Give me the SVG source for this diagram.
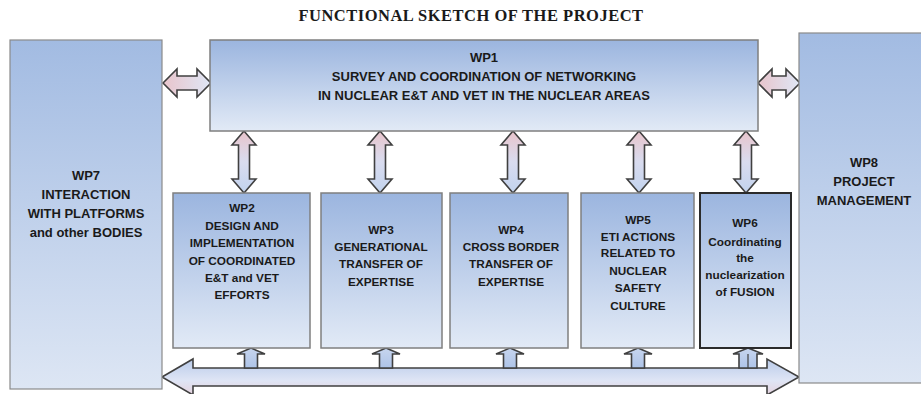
<svg xmlns="http://www.w3.org/2000/svg" width="921" height="394" viewBox="0 0 921 394">
<defs>
<linearGradient id="boxg" x1="0" y1="0" x2="0" y2="1">
<stop offset="0" stop-color="#9bb5df"/>
<stop offset="1" stop-color="#e2eaf6"/>
</linearGradient>
<linearGradient id="sideg" x1="0" y1="0" x2="0" y2="1">
<stop offset="0" stop-color="#a2bbe2"/>
<stop offset="1" stop-color="#dde6f4"/>
</linearGradient>
<linearGradient id="vg" x1="0" y1="0" x2="0" y2="1">
<stop offset="0" stop-color="#e8c4cb"/>
<stop offset="0.5" stop-color="#d9dcef"/>
<stop offset="1" stop-color="#c2d3ee"/>
</linearGradient>
<linearGradient id="hg" x1="0" y1="0" x2="1" y2="0">
<stop offset="0" stop-color="#e8c4cb"/>
<stop offset="1" stop-color="#dfe7f6"/>
</linearGradient>
<linearGradient id="bg" x1="0" y1="0" x2="0" y2="1">
<stop offset="0" stop-color="#b9cbea"/>
<stop offset="0.6" stop-color="#dfe5f5"/>
<stop offset="1" stop-color="#e6d3de"/>
</linearGradient>
<linearGradient id="ug" x1="0" y1="0" x2="0" y2="1">
<stop offset="0" stop-color="#c7d5ee"/>
<stop offset="1" stop-color="#aec4e8"/>
</linearGradient>
</defs>
<style>
.box{fill:url(#boxg);stroke:#7f7f7f;stroke-width:1.5}
.side{fill:url(#sideg);stroke:#8a8a8a;stroke-width:1.2}
.t{font-family:"Liberation Sans",Arial,sans-serif;font-weight:bold;font-size:11.8px;fill:#1a1a1a;text-anchor:middle}
.t1{font-size:13px}
.title{font-family:"Liberation Serif","Times New Roman",serif;font-weight:bold;font-size:16.5px;fill:#1a1a1a;text-anchor:middle;letter-spacing:0.5px}
.va{fill:url(#vg);stroke:#404040;stroke-width:1.6;stroke-linejoin:miter}
.ha{fill:url(#hg);stroke:#404040;stroke-width:1.6}
.ba{fill:url(#bg);stroke:#404040;stroke-width:1.6}
.ua{fill:url(#ug);stroke:#404040;stroke-width:1.6}
</style>
<rect width="921" height="394" fill="#ffffff"/>
<text class="title" x="471" y="21">FUNCTIONAL  SKETCH OF THE PROJECT</text>

<g id="connectors">
<!-- WP7 <-> WP1 -->
<path class="ha" d="M163,83 L177,69 L177,76 L197,76 L197,69 L211,83 L197,97 L197,90 L177,90 L177,97 Z"/>
<!-- WP1 <-> WP8 -->
<path class="ha" d="M758,83 L772,69 L772,76 L786,76 L786,69 L800,83 L786,97 L786,90 L772,90 L772,97 Z"/>
<!-- vertical WP1 <-> WP2..WP6 -->
<g class="va">
<path d="M244,131 L256,145 L249.5,145 L249.5,179 L256,179 L244,193 L232,179 L238.5,179 L238.5,145 L232,145 Z"/>
<path d="M380,131 L392,145 L385.5,145 L385.5,179 L392,179 L380,193 L368,179 L374.5,179 L374.5,145 L368,145 Z"/>
<path d="M513,131 L525,145 L518.5,145 L518.5,179 L525,179 L513,193 L501,179 L507.5,179 L507.5,145 L501,145 Z"/>
<path d="M639,131 L651,145 L644.5,145 L644.5,179 L651,179 L639,193 L627,179 L633.5,179 L633.5,145 L627,145 Z"/>
<path d="M746,131 L758,145 L751.5,145 L751.5,179 L758,179 L746,193 L734,179 L740.5,179 L740.5,145 L734,145 Z"/>
</g>
<!-- bottom bus arrow -->
<path class="ba" d="M162,377 L193,359 L193,368 L767,368 L767,359 L799,377 L767,395 L767,386 L193,386 L193,395 Z"/>
<!-- small up arrows -->
<g class="ua">
<path d="M251,348 L265,354 L257.5,354 L257.5,368 L244.5,368 L244.5,354 L237,354 Z"/>
<path d="M386,348 L400,354 L392.5,354 L392.5,368 L379.5,368 L379.5,354 L372,354 Z"/>
<path d="M510,348 L524,354 L516.5,354 L516.5,368 L503.5,368 L503.5,354 L496,354 Z"/>
<path d="M638,348 L652,354 L644.5,354 L644.5,368 L631.5,368 L631.5,354 L624,354 Z"/>
<path d="M748,348 L763,354 L757,354 L757,368 L739,368 L739,354 L733,354 Z"/>
<line x1="748" y1="354" x2="748" y2="368" stroke="#404040" stroke-width="1.2"/>
</g>
</g>

<g id="wp7">
<rect class="side" x="10" y="40" width="152" height="349"/>
<text class="t t1" x="86" y="180">WP7</text>
<text class="t t1" x="86" y="199">INTERACTION</text>
<text class="t t1" x="86" y="218">WITH PLATFORMS</text>
<text class="t t1" x="86" y="237">and other BODIES</text>
</g>

<g id="wp8">
<rect class="side" x="799" y="33" width="130" height="350"/>
<text class="t t1" x="864" y="167">WP8</text>
<text class="t t1" x="864" y="186">PROJECT</text>
<text class="t t1" x="864" y="205">MANAGEMENT</text>
</g>

<g id="wp1">
<rect class="box" x="210" y="40" width="548" height="91"/>
<text class="t t1" x="484" y="62">WP1</text>
<text class="t t1" x="484" y="81">SURVEY AND COORDINATION OF NETWORKING</text>
<text class="t t1" x="484" y="100">IN NUCLEAR E&amp;T AND VET IN THE NUCLEAR AREAS</text>
</g>

<g id="wp2">
<rect class="box" x="173" y="193" width="137" height="155"/>
<text class="t" x="242" y="212">WP2</text>
<text class="t" x="242" y="230">DESIGN AND</text>
<text class="t" x="242" y="247">IMPLEMENTATION</text>
<text class="t" x="242" y="265">OF COORDINATED</text>
<text class="t" x="242" y="282">E&amp;T and VET</text>
<text class="t" x="242" y="299">EFFORTS</text>
</g>

<g id="wp3">
<rect class="box" x="321" y="193" width="121" height="155"/>
<text class="t" x="381" y="234">WP3</text>
<text class="t" x="381" y="251">GENERATIONAL</text>
<text class="t" x="381" y="268">TRANSFER OF</text>
<text class="t" x="381" y="286">EXPERTISE</text>
</g>

<g id="wp4">
<rect class="box" x="450" y="193" width="118" height="155"/>
<text class="t" x="511" y="234">WP4</text>
<text class="t" x="511" y="251">CROSS BORDER</text>
<text class="t" x="511" y="268">TRANSFER OF</text>
<text class="t" x="511" y="286">EXPERTISE</text>
</g>

<g id="wp5">
<rect class="box" x="581" y="193" width="113" height="155"/>
<text class="t" x="638" y="224">WP5</text>
<text class="t" x="638" y="241">ETI ACTIONS</text>
<text class="t" x="638" y="257">RELATED TO</text>
<text class="t" x="638" y="275">NUCLEAR</text>
<text class="t" x="638" y="292">SAFETY</text>
<text class="t" x="638" y="310">CULTURE</text>
</g>

<g id="wp6">
<rect class="box" x="700" y="193" width="91" height="155" style="stroke:#2b2b2b;stroke-width:2"/>
<text class="t" x="745" y="227">WP6</text>
<text class="t" x="745" y="246">Coordinating</text>
<text class="t" x="745" y="262">the</text>
<text class="t" x="745" y="279">nuclearization</text>
<text class="t" x="745" y="296">of FUSION</text>
</g>
</svg>
